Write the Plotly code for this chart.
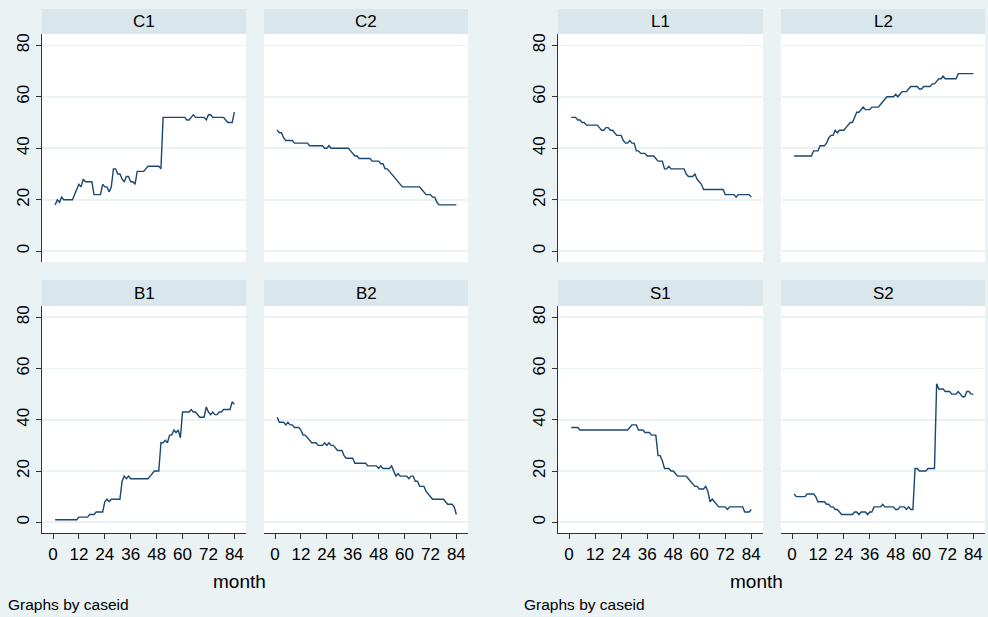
import plotly.graph_objects as go

# ---------------- data ----------------
months = list(range(1, 85))
x_ticks = [0, 12, 24, 36, 48, 60, 72, 84]
y_ticks = [0, 20, 40, 60, 80]

C1 = [18,20,19,21,20,20,20,20,20,22,24,26,
      25,28,27,27,27,27,22,22,22,22,26,25,
      25,23,25,32,32,30,30,28,27,29,29,27,
      27,26,31,31,31,31,32,33,33,33,33,33,
      33,32,52,52,52,52,52,52,52,52,52,52,
      52,51,51,52,53,52,52,52,52,52,51,53,
      53,52,52,52,52,52,52,51,50,50,50,54]
C2 = [47,46,46,44,43,43,43,43,42,42,42,42,
      42,42,42,41,41,41,41,41,41,41,40,40,
      41,40,40,40,40,40,40,40,40,40,39,38,
      37,37,36,36,36,36,36,36,35,35,35,35,
      34,34,32,32,31,30,29,28,27,26,25,25,
      25,25,25,25,25,25,25,24,23,22,22,22,
      21,21,19,18,18,18,18,18,18,18,18,18]
B1 = [1,1,1,1,1,1,1,1,1,1,1,2,
      2,2,2,2,3,3,3,4,4,4,4,8,
      9,8,9,9,9,9,9,16,18,17,18,17,
      17,17,17,17,17,17,17,17,18,19,20,20,
      20,31,31,32,31,34,34,36,35,36,33,43,
      43,43,43,44,43,43,42,41,41,41,45,43,
      42,43,42,42,43,43,44,44,44,44,47,46]
B2 = [41,39,39,39,38,39,38,38,37,37,37,36,
      34,34,33,32,31,31,31,30,30,30,31,30,
      31,30,30,29,28,28,28,26,25,25,25,25,
      23,23,23,23,23,23,22,22,22,22,22,21,
      22,21,21,21,21,22,20,18,19,18,18,18,
      18,17,18,18,16,16,14,14,14,12,11,10,
      9,9,9,9,9,9,8,7,7,7,6,3]
L1 = [52,52,52,51,51,50,50,49,49,49,49,49,
      49,48,47,47,48,48,47,47,46,45,45,45,
      43,42,42,43,42,42,39,39,38,38,38,37,
      37,37,37,36,35,35,35,32,32,33,32,32,
      32,32,32,32,32,30,29,29,29,30,28,27,
      26,24,24,24,24,24,24,24,24,24,24,22,
      22,22,22,22,21,22,22,22,22,22,22,21]
L2 = [37,37,37,37,37,37,37,37,37,39,39,39,
      41,41,41,42,44,45,45,47,46,47,47,47,
      48,49,50,50,52,54,54,55,56,55,55,55,
      56,56,56,56,57,58,59,60,60,60,60,61,
      60,61,62,62,62,63,64,64,64,64,63,63,
      64,64,64,64,65,65,66,67,67,68,67,67,
      67,67,67,67,69,69,69,69,69,69,69,69]
S1 = [37,37,37,37,36,36,36,36,36,36,36,36,
      36,36,36,36,36,36,36,36,36,36,36,36,
      36,36,36,37,38,38,38,36,36,36,35,35,
      35,34,34,34,26,26,24,21,21,21,20,20,
      19,18,18,18,18,18,17,16,15,14,14,13,
      13,13,14,12,8,9,8,7,6,6,6,6,
      5,6,6,6,6,6,6,6,4,4,4,5]
S2 = [11,10,10,10,10,10,11,11,11,11,10,8,
      8,8,8,7,7,6,6,5,5,4,3,3,
      3,3,3,3,4,4,3,4,4,4,3,4,
      4,6,6,6,6,7,6,6,6,6,6,5,
      5,6,6,6,5,6,5,5,21,21,20,20,
      20,20,21,21,21,21,54,52,52,52,51,51,
      51,50,50,50,51,50,49,49,51,51,50,50]

panel_names = ["C1", "C2", "B1", "B2", "L1", "L2", "S1", "S2"]
panel_data = [C1, C2, B1, B2, L1, L2, S1, S2]
panel_row = [0, 0, 1, 1, 0, 0, 1, 1]
panel_col = [0, 1, 0, 1, 2, 3, 2, 3]

# ---------------- layout geometry (pixels) ----------------
W, H = 988, 617
cols_px = [(42, 246), (264, 468), (558, 763), (781, 985)]
rows_px = [(34, 262), (306, 533)]
heads_px = [(9, 34), (280, 306)]

def fx(p):
    return p / W

def fy(p):
    return 1 - p / H

BG = "#EAF2F3"
STRIP = "#D9E6EB"
LINE = "#1A476F"
FONT = "Liberation Sans, Arial, sans-serif"

fig = go.Figure()
layout = dict(
    width=W, height=H,
    margin=dict(l=0, r=0, t=0, b=0),
    paper_bgcolor=BG, plot_bgcolor="white",
    showlegend=False,
    font=dict(family=FONT, size=16, color="black"),
)
shapes = []
annotations = []

for i, (name, vals, r, c) in enumerate(zip(panel_names, panel_data, panel_row, panel_col)):
    k = i + 1
    xa = "x" if k == 1 else f"x{k}"
    ya = "y" if k == 1 else f"y{k}"
    fig.add_trace(go.Scatter(x=months, y=vals, mode="lines",
                             line=dict(color=LINE, width=1.4),
                             xaxis=xa, yaxis=ya, hoverinfo="skip"))
    x0, x1 = cols_px[c]
    y0, y1 = rows_px[r]
    bottom = (r == 1)
    left = (c in (0, 2))
    layout["xaxis" if k == 1 else f"xaxis{k}"] = dict(
        domain=[fx(x0), fx(x1)], anchor=ya, range=[-5.1, 89.4],
        showgrid=False, zeroline=False,
        tickmode="array", tickvals=x_ticks,
        showticklabels=bottom, ticks="outside" if bottom else "",
        ticklen=5, tickwidth=1, tickcolor="#333333",
        showline=bottom, linecolor="#333333", linewidth=1.2,
        tickfont=dict(family=FONT, size=17, color="black"),
        fixedrange=True,
    )
    layout["yaxis" if k == 1 else f"yaxis{k}"] = dict(
        domain=[fy(y1), fy(y0)], anchor=xa, range=[-4.2, 84.4],
        showgrid=True, gridcolor=BG, gridwidth=1.6, zeroline=False,
        tickmode="array", tickvals=y_ticks,
        showticklabels=left, ticks="outside" if left else "",
        ticklen=5, tickwidth=1, tickcolor="#333333",
        showline=left, linecolor="#333333", linewidth=1.2,
        tickangle=-90,
        tickfont=dict(family=FONT, size=17, color="black"),
        fixedrange=True,
    )
    h0, h1 = heads_px[r]
    shapes.append(dict(type="rect", xref="paper", yref="paper",
                       x0=fx(x0), x1=fx(x1), y0=fy(h1), y1=fy(h0),
                       fillcolor=STRIP, line=dict(width=0), layer="below"))
    annotations.append(dict(text=name, xref="paper", yref="paper",
                            x=fx((x0 + x1) / 2), y=fy((h0 + h1) / 2),
                            xanchor="center", yanchor="middle", showarrow=False,
                            font=dict(family=FONT, size=17, color="black")))

for cx in (239, 756):
    annotations.append(dict(text="month", xref="paper", yref="paper",
                            x=fx(cx), y=fy(581), xanchor="center", yanchor="middle",
                            showarrow=False,
                            font=dict(family=FONT, size=19, color="black")))
for lx in (6, 522):
    annotations.append(dict(text="Graphs by caseid", xref="paper", yref="paper",
                            x=fx(lx), y=fy(604), xanchor="left", yanchor="middle",
                            showarrow=False,
                            font=dict(family=FONT, size=15.5, color="black")))

layout["shapes"] = shapes
layout["annotations"] = annotations
fig.update_layout(**layout)
fig.write_html("out.html",
               config={"displayModeBar": False, "staticPlot": True},
               post_script="document.body.style.margin='0';document.body.style.padding='0';document.body.style.overflow='hidden';")
